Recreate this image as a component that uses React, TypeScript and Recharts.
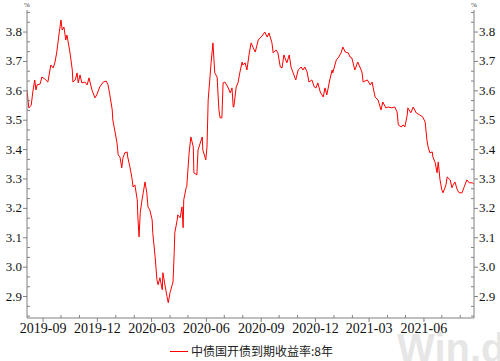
import { Line, LineChart, XAxis, YAxis } from "recharts";

// 中债国开债到期收益率:8年
const dates = [
  "2019-08-05", "2019-08-08", "2019-08-12", "2019-08-15", "2019-08-18", "2019-08-20", "2019-08-22", "2019-08-27", "2019-08-30",
  "2019-09-04", "2019-09-09", "2019-09-14", "2019-09-18", "2019-09-21", "2019-09-24", "2019-09-28",
  "2019-10-01", "2019-10-03", "2019-10-06", "2019-10-09", "2019-10-11", "2019-10-16", "2019-10-20", "2019-10-21", "2019-10-25", "2019-10-28", "2019-10-30",
  "2019-11-02", "2019-11-05", "2019-11-10", "2019-11-14", "2019-11-17", "2019-11-22", "2019-11-27", "2019-11-30",
  "2019-12-05", "2019-12-11", "2019-12-16", "2019-12-19", "2019-12-22", "2019-12-26", "2019-12-27", "2019-12-31",
  "2020-01-03", "2020-01-05", "2020-01-08", "2020-01-11", "2020-01-13", "2020-01-16", "2020-01-20", "2020-01-21", "2020-01-25", "2020-01-28", "2020-01-30",
  "2020-02-02", "2020-02-06", "2020-02-07", "2020-02-09", "2020-02-11", "2020-02-14", "2020-02-16", "2020-02-19", "2020-02-22", "2020-02-24", "2020-02-27",
  "2020-03-02", "2020-03-03", "2020-03-07", "2020-03-10", "2020-03-12", "2020-03-15", "2020-03-19", "2020-03-20", "2020-03-24", "2020-03-27", "2020-03-29",
  "2020-04-01", "2020-04-06", "2020-04-08", "2020-04-09", "2020-04-13", "2020-04-14", "2020-04-18", "2020-04-21", "2020-04-23", "2020-04-24", "2020-04-28", "2020-04-29",
  "2020-05-03", "2020-05-06", "2020-05-10", "2020-05-11", "2020-05-16", "2020-05-18", "2020-05-25", "2020-05-26", "2020-05-31",
  "2020-06-02", "2020-06-04", "2020-06-09", "2020-06-12", "2020-06-15", "2020-06-19", "2020-06-22", "2020-06-24", "2020-06-27", "2020-06-29",
  "2020-07-02", "2020-07-07", "2020-07-11", "2020-07-14", "2020-07-16", "2020-07-17", "2020-07-21", "2020-07-24", "2020-07-27", "2020-07-31",
  "2020-08-01", "2020-08-05", "2020-08-08", "2020-08-12", "2020-08-15", "2020-08-18", "2020-08-22", "2020-08-27",
  "2020-09-02", "2020-09-07", "2020-09-11", "2020-09-14", "2020-09-19", "2020-09-21", "2020-09-26", "2020-09-29",
  "2020-10-03", "2020-10-06", "2020-10-09", "2020-10-14", "2020-10-18", "2020-10-21", "2020-10-24", "2020-10-29",
  "2020-11-02", "2020-11-07", "2020-11-10", "2020-11-13", "2020-11-17", "2020-11-20", "2020-11-25", "2020-11-29",
  "2020-12-02", "2020-12-05", "2020-12-09", "2020-12-14", "2020-12-17", "2020-12-20", "2020-12-25", "2020-12-29", "2020-12-30",
  "2021-01-05", "2021-01-08", "2021-01-13", "2021-01-16", "2021-01-20", "2021-01-25", "2021-01-28", "2021-01-31",
  "2021-02-05", "2021-02-10", "2021-02-17", "2021-02-19", "2021-02-26",
  "2021-03-03", "2021-03-06", "2021-03-11", "2021-03-16", "2021-03-21", "2021-03-24", "2021-03-29",
  "2021-04-02", "2021-04-08", "2021-04-13", "2021-04-17", "2021-04-19", "2021-04-24", "2021-04-27", "2021-04-30",
  "2021-05-04", "2021-05-05", "2021-05-10", "2021-05-14", "2021-05-19", "2021-05-25", "2021-05-30",
  "2021-06-03", "2021-06-06", "2021-06-08", "2021-06-11", "2021-06-15", "2021-06-16", "2021-06-20", "2021-06-23", "2021-06-25", "2021-06-28",
  "2021-07-01", "2021-07-03", "2021-07-08", "2021-07-10", "2021-07-15", "2021-07-18", "2021-07-20", "2021-07-23", "2021-07-27", "2021-07-30",
  "2021-08-04", "2021-08-07", "2021-08-12", "2021-08-16", "2021-08-21", "2021-08-24",
];

const yields = [
  3.603, 3.542, 3.55, 3.6, 3.637, 3.603, 3.62, 3.623, 3.647,
  3.64, 3.63, 3.688, 3.678, 3.698, 3.732, 3.797,
  3.841, 3.807, 3.817, 3.773, 3.79, 3.732, 3.671, 3.63, 3.637, 3.661, 3.627,
  3.654, 3.627, 3.63, 3.62, 3.644, 3.603, 3.576, 3.586,
  3.613, 3.63, 3.633, 3.62, 3.586, 3.535, 3.501, 3.457,
  3.423, 3.382, 3.375, 3.338, 3.372, 3.389, 3.392, 3.375, 3.338, 3.304, 3.273,
  3.28, 3.229, 3.171, 3.103, 3.185, 3.229, 3.253, 3.29, 3.253, 3.205, 3.195,
  3.161, 3.117, 3.035, 2.957, 2.94, 2.964, 2.923, 2.981, 2.933, 2.899, 2.879,
  2.913, 2.95, 3.049, 3.117, 3.161, 3.178, 3.168, 3.205, 3.134, 3.229, 3.27, 3.273,
  3.389, 3.443, 3.409, 3.321, 3.314, 3.399, 3.443, 3.399, 3.365,
  3.409, 3.569, 3.698, 3.763, 3.661, 3.647, 3.535, 3.508, 3.508, 3.627,
  3.63, 3.613, 3.593, 3.61, 3.545, 3.545, 3.613, 3.627, 3.661, 3.698,
  3.688, 3.695, 3.671, 3.729, 3.763, 3.749, 3.732, 3.773,
  3.786, 3.8, 3.783, 3.797, 3.763, 3.729, 3.739, 3.729,
  3.681, 3.678, 3.722, 3.695, 3.722, 3.681, 3.664, 3.637,
  3.671, 3.681, 3.671, 3.681, 3.664, 3.63, 3.637, 3.613,
  3.61, 3.627, 3.596, 3.579, 3.61, 3.586, 3.637, 3.671, 3.661,
  3.705, 3.712, 3.729, 3.749, 3.732, 3.729, 3.715, 3.712,
  3.671, 3.698, 3.664, 3.63, 3.637,
  3.62, 3.63, 3.579, 3.569, 3.535, 3.562, 3.542,
  3.545, 3.542, 3.545, 3.528, 3.484, 3.477, 3.484, 3.477,
  3.518, 3.542, 3.525, 3.545, 3.525, 3.518, 3.511,
  3.494, 3.433, 3.409, 3.389, 3.392, 3.375, 3.355, 3.321, 3.358, 3.297,
  3.263, 3.253, 3.28, 3.307, 3.297, 3.27, 3.28, 3.29, 3.263, 3.253,
  3.253, 3.27, 3.297, 3.287, 3.287, 3.283,
];

const monthTicks = [
  "2019-09-01", "2019-10-01", "2019-11-01", "2019-12-01",
  "2020-01-01", "2020-02-01", "2020-03-01", "2020-04-01", "2020-05-01", "2020-06-01",
  "2020-07-01", "2020-08-01", "2020-09-01", "2020-10-01", "2020-11-01", "2020-12-01",
  "2021-01-01", "2021-02-01", "2021-03-01", "2021-04-01", "2021-05-01", "2021-06-01",
  "2021-07-01", "2021-08-01",
];

const yMajorTicks = [2.9, 3.0, 3.1, 3.2, 3.3, 3.4, 3.5, 3.6, 3.7, 3.8];

const seriesName = "中债国开债到期收益率:8年";

const toTime = (d: string) => Date.parse(d + "T00:00:00Z");

const data = dates.map((d, i) => ({ t: toTime(d), v: yields[i] }));

// major ticks plus two minor ticks per 0.1 step
const yTicks: number[] = [];
[2.8, ...yMajorTicks].forEach((m) => {
  for (let k = 0; k < 3; k++) {
    const v = Math.round((m + k / 30) * 10000) / 10000;
    if (v > 2.827 && v < 3.875) yTicks.push(v);
  }
});

const isMajorY = (v: number) => Math.abs(v * 10 - Math.round(v * 10)) < 1e-6;

const AXIS = "#808080";
const SERIF = '"Liberation Serif", "Times New Roman", serif';

const XTick = (props: any) => {
  const { x, y, payload } = props;
  const d = new Date(payload.value);
  const m = d.getUTCMonth() + 1;
  const major = m % 3 === 0;
  const label = `${d.getUTCFullYear()}-${String(m).padStart(2, "0")}`;
  return (
    <g>
      <line x1={x} x2={x} y1={y} y2={major ? y + 4 : y - 3} stroke={AXIS} />
      {major && (
        <text x={x} y={y + 15} textAnchor="middle" fontSize={14} fontFamily={SERIF} fill="#111">
          {label}
        </text>
      )}
    </g>
  );
};

const YTick = (props: any) => {
  const { x, y, payload, side } = props;
  const v = payload.value;
  const major = isMajorY(v);
  const dir = side === "left" ? -1 : 1;
  return (
    <g>
      <line x1={x} x2={major ? x + dir * 4 : x - dir * 3} y1={y} y2={y} stroke={AXIS} />
      {major && (
        <text
          x={x + dir * 5}
          y={y + 4}
          textAnchor={side === "left" ? "end" : "start"}
          fontSize={13}
          fontFamily={SERIF}
          fill="#111"
        >
          {v.toFixed(1)}
        </text>
      )}
    </g>
  );
};

const PctLabel = (props: any) => {
  const { viewBox, side } = props;
  if (!viewBox) return null;
  const x = side === "left" ? viewBox.x + viewBox.width : viewBox.x;
  return (
    <text x={x - 3} y={viewBox.y - 3} fontSize={7} fontFamily={SERIF} fill="#333">
      %
    </text>
  );
};

export default function App() {
  return (
    <div style={{ position: "fixed", left: 0, top: 0, width: 500, height: 361, background: "#fff", overflow: "hidden" }}>
      <div
        style={{
          position: "absolute",
          left: 397,
          top: 328,
          fontFamily: '"Liberation Sans", Arial, sans-serif',
          fontWeight: "bold",
          fontSize: 40,
          color: "#e6e6e6",
          whiteSpace: "nowrap",
          lineHeight: "40px",
        }}
      >
        Win.d
      </div>
      <LineChart
        width={500}
        height={361}
        data={data}
        margin={{ top: 10, right: 0, bottom: 0, left: 0 }}
        style={{ position: "absolute", left: 0, top: 0 }}
      >
        <XAxis
          dataKey="t"
          type="number"
          scale="time"
          domain={[toTime("2019-08-05"), toTime("2021-08-24")]}
          ticks={monthTicks.map(toTime)}
          interval={0}
          height={43}
          tickSize={0}
          tickMargin={0}
          tickLine={false}
          stroke={AXIS}
          tick={<XTick />}
          allowDataOverflow
        />
        <YAxis
          yAxisId="L"
          orientation="left"
          width={27}
          domain={[2.827, 3.875]}
          ticks={yTicks}
          interval={0}
          tickSize={0}
          tickMargin={0}
          tickLine={false}
          stroke={AXIS}
          tick={<YTick side="left" />}
          label={<PctLabel side="left" />}
          allowDataOverflow
        />
        <YAxis
          yAxisId="R"
          orientation="right"
          width={26}
          domain={[2.827, 3.875]}
          ticks={yTicks}
          interval={0}
          tickSize={0}
          tickMargin={0}
          tickLine={false}
          stroke={AXIS}
          tick={<YTick side="right" />}
          label={<PctLabel side="right" />}
          allowDataOverflow
        />
        <Line
          yAxisId="L"
          type="linear"
          dataKey="v"
          name={seriesName}
          stroke="#ff0000"
          strokeWidth={1}
          dot={false}
          isAnimationActive={false}
        />
      </LineChart>
      <div
        style={{
          position: "absolute",
          left: 170,
          top: 343,
          display: "flex",
          alignItems: "center",
          fontFamily: '"Noto Sans CJK SC", sans-serif',
          fontSize: 12,
          color: "#222",
          whiteSpace: "nowrap",
          lineHeight: "16px",
        }}
      >
        <span style={{ display: "inline-block", width: 18, height: 0, borderTop: "1.5px solid #ff0000", marginRight: 3 }} />
        {seriesName}
      </div>
    </div>
  );
}
